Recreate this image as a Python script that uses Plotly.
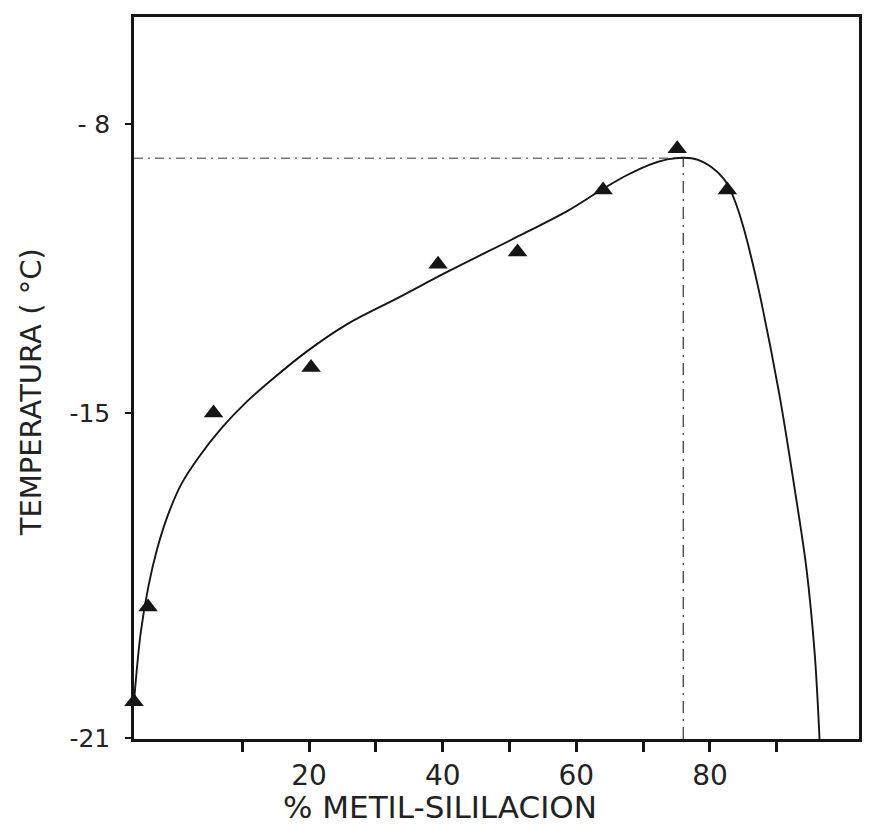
import plotly.graph_objects as go

# measured points (% metil-sililacion, temperatura °C) read on the chart's linear scale
pts_x = [-6.2, -4.1, 5.7, 20.3, 39.3, 51.2, 64.0, 75.1, 82.6]
pts_y = [-22.0, -19.7, -15.0, -13.9, -11.4, -11.1, -9.6, -8.6, -9.6]

# hand-drawn fitted curve
curve_x = [-6.2, -5.19, -4.03, -2.74, -1.16, 0.90, 3.46, 6.96, 10.61, 14.54, 19.68,
           25.71, 33.23, 40.74, 51.70, 58.76, 63.72, 67.47, 70.91, 73.61, 76.0,
           78.22, 80.15, 82.06, 83.2, 84.2, 85.1, 86.0, 87.4, 90.33, 92.66,
           94.44, 95.67, 96.33, 96.39]
curve_y = [-22.0, -20.32, -19.19, -18.30, -17.49, -16.72, -16.08, -15.36, -14.74, -14.18, -13.51,
           -12.85, -12.22, -11.58, -10.69, -10.10, -9.60, -9.25, -8.99, -8.86, -8.82,
           -8.87, -9.04, -9.33, -9.66, -10.08, -10.56, -11.12, -12.10, -14.51, -16.83,
           -18.78, -20.83, -22.68, -22.9]

# maximum marked with dash-dot guides
max_x = 76.0
max_y = -8.83

x_tick_vals = [10, 20, 30, 40, 50, 60, 70, 80, 90]
x_tick_text = ["", "20", "", "40", "", "60", "", "80", ""]
y_tick_vals = [-8, -15, -22.88]
y_tick_text = ["- 8", "-15", "-21"]

X_RANGE = [-6.2, 102.3]
Y_RANGE = [-22.9, -5.41]
INK = "#151515"
FONT = "DejaVu Sans"

fig = go.Figure()

# dash-dot guides
fig.add_trace(go.Scatter(x=[X_RANGE[0], max_x], y=[max_y, max_y], mode="lines",
                         line=dict(color="#333", width=1, dash="9px,5px,2px,5px"),
                         hoverinfo="skip", showlegend=False))
fig.add_trace(go.Scatter(x=[max_x, max_x], y=[Y_RANGE[0], max_y], mode="lines",
                         line=dict(color="#333", width=1.2, dash="12px,6px,2px,6px"),
                         hoverinfo="skip", showlegend=False))

# curve
fig.add_trace(go.Scatter(x=curve_x, y=curve_y, mode="lines",
                         line=dict(color=INK, width=1.9, shape="spline", smoothing=1.0),
                         showlegend=False))

# points
fig.add_trace(go.Scatter(x=pts_x, y=pts_y, mode="markers", cliponaxis=False,
                         marker=dict(symbol="triangle-up", size=17, color=INK),
                         showlegend=False))

fig.update_layout(
    width=874, height=839,
    margin=dict(l=134, r=13, t=17, b=100),
    paper_bgcolor="white", plot_bgcolor="white",
    font=dict(family=FONT, color="#222"),
    showlegend=False,
    xaxis=dict(range=X_RANGE, tickmode="array", tickvals=x_tick_vals, ticktext=x_tick_text,
               ticks="outside", ticklen=10, tickwidth=2.5, tickcolor=INK,
               showline=True, linewidth=2.5, linecolor=INK, mirror=True,
               showgrid=False, zeroline=False, tickfont=dict(size=28, family=FONT, color="#222"),
               ticklabelstandoff=0),
    yaxis=dict(range=Y_RANGE, tickmode="array", tickvals=y_tick_vals, ticktext=y_tick_text,
               ticks="outside", ticklen=6, tickwidth=2, tickcolor=INK,
               showline=True, linewidth=2.5, linecolor=INK, mirror=True,
               showgrid=False, zeroline=False, tickfont=dict(size=25, family=FONT, color="#222"),
               ticklabelstandoff=10),
    annotations=[
        dict(text="% METIL-SILILACION", xref="paper", yref="paper", x=0.4223, y=-0.094,
             xanchor="center", yanchor="middle", showarrow=False,
             font=dict(size=31, family=FONT, color="#222")),
        dict(text="TEMPERATURA ( °C)", xref="paper", yref="paper", x=-0.1417, y=0.4806,
             xanchor="center", yanchor="middle", showarrow=False, textangle=-90,
             font=dict(size=29, family=FONT, color="#222")),
    ],
)

fig.write_html("out.html")
